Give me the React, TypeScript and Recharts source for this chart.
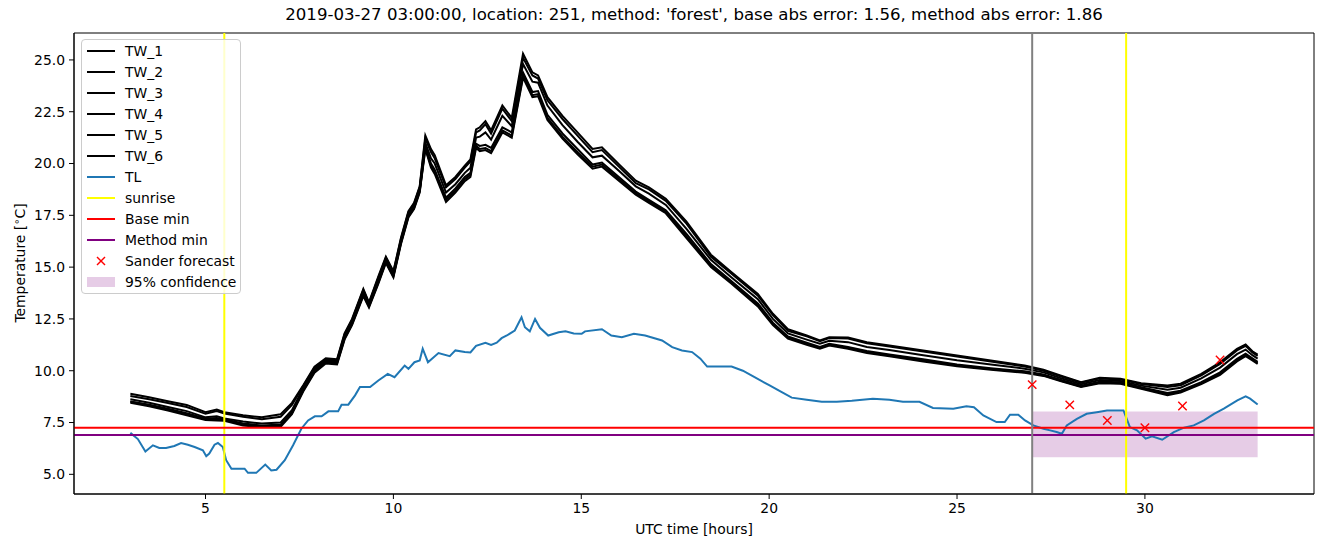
import { ComposedChart, Line, XAxis, YAxis, ReferenceLine, ReferenceArea, Legend } from 'recharts'

const twHours = [3, 3.5, 4, 4.5, 5, 5.3, 5.5, 6, 6.5, 7, 7.3, 7.6, 7.9, 8.2, 8.5, 8.7, 8.9, 9.2, 9.35, 9.6, 9.8, 10, 10.2, 10.4, 10.55, 10.7, 10.85, 11, 11.1, 11.4, 11.65, 11.9, 12.05, 12.2, 12.3, 12.45, 12.6, 12.9, 13.15, 13.45, 13.7, 13.85, 14.1, 14.5, 14.9, 15.3, 15.55, 16, 16.45, 16.8, 17.25, 17.8, 18.45, 19, 19.7, 20.1, 20.5, 21, 21.35, 21.6, 22.1, 22.6, 23.2, 24.1, 25, 25.9, 26.8, 27.3, 27.75, 28.3, 28.8, 29.35, 29.9, 30.6, 30.95, 31.5, 32, 32.45, 32.68, 32.86, 33]

const tw1 = [8.89, 8.72, 8.53, 8.35, 8.0, 8.13, 8.0, 7.85, 7.75, 7.9, 8.45, 9.3, 10.2, 10.6, 10.55, 11.8, 12.5, 13.95, 13.3, 14.55, 15.5, 14.8, 16.4, 17.7, 18.1, 18.9, 21.35, 20.7, 20.4, 18.95, 19.35, 19.9, 20.2, 21.65, 21.75, 22.05, 21.6, 22.8, 22.2, 25.3, 24.4, 24.25, 23.2, 22.3, 21.5, 20.7, 20.78, 19.97, 19.17, 18.85, 18.3, 17.2, 15.6, 14.75, 13.7, 12.75, 12.0, 11.7, 11.46, 11.62, 11.6, 11.38, 11.22, 10.98, 10.73, 10.49, 10.25, 10.05, 9.77, 9.45, 9.66, 9.61, 9.4, 9.29, 9.37, 9.85, 10.41, 11.06, 11.27, 10.94, 10.78]
const tw2 = [8.78, 8.62, 8.44, 8.25, 7.92, 8.05, 7.93, 7.78, 7.66, 7.78, 8.35, 9.25, 10.15, 10.55, 10.5, 11.75, 12.45, 13.9, 13.25, 14.5, 15.45, 14.75, 16.35, 17.65, 18.05, 18.85, 21.2, 20.55, 20.25, 18.85, 19.25, 19.8, 20.1, 21.5, 21.6, 21.9, 21.45, 22.65, 22.05, 25.1, 24.25, 24.1, 23.05, 22.15, 21.35, 20.55, 20.65, 19.85, 19.05, 18.75, 18.2, 17.1, 15.5, 14.68, 13.62, 12.68, 11.92, 11.66, 11.42, 11.58, 11.55, 11.33, 11.17, 10.93, 10.68, 10.44, 10.2, 10.0, 9.73, 9.42, 9.63, 9.58, 9.36, 9.22, 9.3, 9.78, 10.33, 10.98, 11.2, 10.88, 10.72]
const tw3 = [8.62, 8.45, 8.25, 8.05, 7.75, 7.8, 7.7, 7.55, 7.45, 7.5, 8.1, 9.15, 10.05, 10.5, 10.45, 11.65, 12.35, 13.8, 13.2, 14.4, 15.35, 14.65, 16.25, 17.55, 17.95, 18.75, 21.0, 20.25, 20.0, 18.6, 19.0, 19.55, 19.8, 21.25, 21.3, 21.5, 21.15, 22.3, 21.8, 24.8, 23.95, 23.9, 22.8, 21.85, 21.05, 20.3, 20.38, 19.65, 18.9, 18.55, 18.0, 16.85, 15.35, 14.5, 13.45, 12.5, 11.8, 11.5, 11.3, 11.45, 11.38, 11.15, 11.0, 10.75, 10.5, 10.3, 10.1, 9.92, 9.65, 9.35, 9.55, 9.5, 9.28, 9.08, 9.18, 9.63, 10.15, 10.8, 11.02, 10.75, 10.58]
const tw4 = [8.52, 8.36, 8.16, 7.95, 7.7, 7.72, 7.66, 7.45, 7.36, 7.4, 8.0, 9.1, 10.0, 10.45, 10.4, 11.6, 12.3, 13.7, 13.15, 14.3, 15.3, 14.6, 16.2, 17.5, 17.9, 18.7, 20.85, 20.0, 19.7, 18.35, 18.8, 19.35, 19.55, 20.95, 20.85, 20.9, 20.75, 21.75, 21.5, 24.4, 23.45, 23.5, 22.35, 21.45, 20.7, 19.95, 20.05, 19.35, 18.65, 18.25, 17.75, 16.6, 15.15, 14.32, 13.25, 12.32, 11.65, 11.35, 11.15, 11.3, 11.15, 10.95, 10.78, 10.55, 10.3, 10.12, 9.97, 9.82, 9.57, 9.28, 9.47, 9.44, 9.2, 8.92, 9.04, 9.45, 9.92, 10.57, 10.82, 10.6, 10.43]
const tw5 = [8.5, 8.33, 8.13, 7.9, 7.66, 7.65, 7.62, 7.4, 7.32, 7.35, 7.95, 9.05, 9.95, 10.4, 10.35, 11.55, 12.25, 13.65, 13.1, 14.25, 15.25, 14.55, 16.15, 17.45, 17.85, 18.65, 20.75, 19.9, 19.6, 18.25, 18.7, 19.25, 19.45, 20.85, 20.7, 20.75, 20.6, 21.6, 21.35, 24.25, 23.3, 23.35, 22.2, 21.3, 20.55, 19.85, 19.95, 19.25, 18.57, 18.17, 17.67, 16.48, 15.07, 14.26, 13.17, 12.26, 11.6, 11.3, 11.1, 11.26, 11.1, 10.9, 10.74, 10.5, 10.26, 10.08, 9.93, 9.78, 9.53, 9.24, 9.43, 9.4, 9.16, 8.86, 8.99, 9.4, 9.86, 10.5, 10.76, 10.55, 10.38]
const tw6 = [8.45, 8.28, 8.08, 7.85, 7.62, 7.6, 7.58, 7.35, 7.28, 7.3, 7.9, 9.0, 9.9, 10.35, 10.3, 11.5, 12.2, 13.6, 13.05, 14.2, 15.2, 14.5, 16.1, 17.4, 17.8, 18.6, 20.7, 19.8, 19.5, 18.15, 18.6, 19.15, 19.35, 20.75, 20.6, 20.65, 20.5, 21.5, 21.25, 24.15, 23.2, 23.25, 22.1, 21.2, 20.45, 19.75, 19.85, 19.17, 18.5, 18.1, 17.6, 16.4, 15.0, 14.2, 13.1, 12.2, 11.55, 11.25, 11.06, 11.22, 11.06, 10.85, 10.7, 10.45, 10.22, 10.05, 9.9, 9.75, 9.5, 9.21, 9.4, 9.37, 9.13, 8.82, 8.95, 9.35, 9.8, 10.45, 10.7, 10.5, 10.33]

const tlHours = [3, 3.2, 3.4, 3.6, 3.77, 3.95, 4.17, 4.35, 4.53, 4.71, 4.93, 5.02, 5.1, 5.24, 5.33, 5.46, 5.55, 5.69, 6.04, 6.13, 6.35, 6.59, 6.75, 6.89, 7.11, 7.33, 7.55, 7.73, 7.91, 8.09, 8.27, 8.53, 8.62, 8.8, 8.98, 9.11, 9.38, 9.6, 9.85, 10.03, 10.3, 10.4, 10.56, 10.7, 10.78, 10.92, 11.2, 11.5, 11.65, 11.9, 12.05, 12.2, 12.45, 12.6, 12.75, 12.88, 13.02, 13.23, 13.41, 13.5, 13.63, 13.77, 13.9, 14.12, 14.4, 14.58, 14.8, 15.01, 15.1, 15.55, 15.8, 16.08, 16.4, 16.7, 17.15, 17.42, 17.68, 17.95, 18.17, 18.35, 19, 19.3, 19.6, 20, 20.3, 20.6, 21, 21.4, 21.8, 22.2, 22.76, 23.2, 23.56, 24, 24.36, 24.9, 25.25, 25.45, 25.7, 26.05, 26.27, 26.41, 26.63, 26.81, 27.03, 27.3, 27.48, 27.65, 27.79, 27.92, 28.19, 28.45, 28.72, 28.99, 29.43, 29.6, 29.79, 30.02, 30.19, 30.46, 30.77, 31.04, 31.3, 31.57, 31.84, 32.1, 32.46, 32.68, 32.8, 33]
const tlTemp = [7.0, 6.7, 6.1, 6.4, 6.27, 6.27, 6.37, 6.51, 6.43, 6.32, 6.16, 5.87, 6.0, 6.43, 6.51, 6.32, 5.68, 5.27, 5.27, 5.07, 5.07, 5.47, 5.19, 5.22, 5.68, 6.4, 7.2, 7.6, 7.8, 7.8, 8.04, 8.04, 8.36, 8.36, 8.81, 9.21, 9.21, 9.53, 9.85, 9.69, 10.25, 10.09, 10.41, 10.49, 11.06, 10.41, 10.85, 10.7, 10.98, 10.9, 10.88, 11.2, 11.35, 11.25, 11.35, 11.57, 11.7, 11.94, 12.58, 12.1, 11.9, 12.5, 12.07, 11.7, 11.86, 11.9, 11.8, 11.78, 11.9, 12.0, 11.7, 11.62, 11.78, 11.7, 11.46, 11.14, 10.98, 10.9, 10.58, 10.2, 10.2, 10.0, 9.7, 9.3, 9.0, 8.7, 8.6, 8.5, 8.5, 8.55, 8.65, 8.6, 8.5, 8.5, 8.2, 8.17, 8.28, 8.24, 7.84, 7.52, 7.52, 7.88, 7.88, 7.6, 7.36, 7.2, 7.12, 7.04, 6.96, 7.36, 7.68, 7.92, 8.0, 8.08, 8.08, 7.28, 7.12, 6.72, 6.83, 6.67, 7.04, 7.25, 7.36, 7.6, 7.92, 8.17, 8.57, 8.76, 8.65, 8.37]

const sanderHours = [27, 28, 29, 30, 31, 32]
const sanderTemp = [9.33, 8.35, 7.6, 7.25, 8.3, 10.52]

const sunriseHours = [5.5, 29.5]
const forecastStart = 27
const baseMin = 7.25
const methodMin = 6.9
const confidence = { from: 27, to: 33, low: 5.82, high: 8.03 }

const xTicks = [5, 10, 15, 20, 25, 30]
const yTicks = [5, 7.5, 10, 12.5, 15, 17.5, 20, 22.5, 25]

const twSeries = [
  { name: 'TW_1', values: tw1 },
  { name: 'TW_2', values: tw2 },
  { name: 'TW_3', values: tw3 },
  { name: 'TW_4', values: tw4 },
  { name: 'TW_5', values: tw5 },
  { name: 'TW_6', values: tw6 },
]

const legendItems = [
  { label: 'TW_1', kind: 'line', color: '#000000' },
  { label: 'TW_2', kind: 'line', color: '#000000' },
  { label: 'TW_3', kind: 'line', color: '#000000' },
  { label: 'TW_4', kind: 'line', color: '#000000' },
  { label: 'TW_5', kind: 'line', color: '#000000' },
  { label: 'TW_6', kind: 'line', color: '#000000' },
  { label: 'TL', kind: 'line', color: '#1f77b4' },
  { label: 'sunrise', kind: 'line', color: '#ffff00' },
  { label: 'Base min', kind: 'line', color: '#ff0000' },
  { label: 'Method min', kind: 'line', color: '#800080' },
  { label: 'Sander forecast', kind: 'cross', color: '#ff0000' },
  { label: '95% confidence', kind: 'patch', color: '#800080' },
]

const FONT = 'DejaVu Sans, sans-serif'

const toPoints = (hours: number[], vals: number[]) => hours.map((h, i) => ({ h, v: vals[i] }))

const Cross = (props: any) => {
  const { cx, cy } = props
  if (cx == null || cy == null) return null
  const s = 4.2
  return (
    <g>
      <line x1={cx - s} y1={cy - s} x2={cx + s} y2={cy + s} stroke="#ff0000" strokeWidth={1.4} />
      <line x1={cx - s} y1={cy + s} x2={cx + s} y2={cy - s} stroke="#ff0000" strokeWidth={1.4} />
    </g>
  )
}

const renderLegend = () => (
  <div
    style={{
      width: 160,
      height: 255,
      border: '1px solid #cccccc',
      borderRadius: 4,
      background: 'rgba(255,255,255,0.8)',
      boxSizing: 'border-box',
      position: 'relative',
      fontFamily: FONT,
      fontSize: 13.9,
      color: '#000',
    }}
  >
    {legendItems.map((it, i) => {
      const cy = 10.5 + i * 21.04
      return (
        <div key={it.label} style={{ position: 'absolute', left: 0, top: cy - 10, height: 20, width: 158 }}>
          <svg width={40} height={20} style={{ position: 'absolute', left: 0, top: 0 }}>
            {it.kind === 'line' && <line x1={5} y1={10} x2={33} y2={10} stroke={it.color} strokeWidth={2} />}
            {it.kind === 'cross' && (
              <g>
                <line x1={15} y1={6} x2={23} y2={14} stroke={it.color} strokeWidth={1.4} />
                <line x1={15} y1={14} x2={23} y2={6} stroke={it.color} strokeWidth={1.4} />
              </g>
            )}
            {it.kind === 'patch' && <rect x={5} y={5} width={28} height={10} fill={it.color} fillOpacity={0.2} />}
          </svg>
          <span style={{ position: 'absolute', left: 43, top: 1, whiteSpace: 'nowrap', lineHeight: '18px' }}>{it.label}</span>
        </div>
      )
    })}
  </div>
)

export default function App() {
  const tick = { fill: '#000', fontSize: 13.9, fontFamily: FONT }
  return (
    <div style={{ position: 'absolute', left: 0, top: 0, width: 1324, height: 547, background: '#fff', fontFamily: FONT }}>
      <div style={{ position: 'absolute', left: 74, width: 1240, top: 5, textAlign: 'center', fontSize: 16.6 }}>
        2019-03-27 03:00:00, location: 251, method: 'forest', base abs error: 1.56, method abs error: 1.86
      </div>
      <div style={{ position: 'absolute', left: 74, width: 1240, top: 521, textAlign: 'center', fontSize: 13.9 }}>
        UTC time [hours]
      </div>
      <div
        style={{
          position: 'absolute',
          left: 19,
          top: 263,
          transform: 'translate(-50%, -50%) rotate(-90deg)',
          fontSize: 13.9,
          whiteSpace: 'nowrap',
        }}
      >
        Temperature [<sup style={{ fontSize: 10, verticalAlign: 5 }}>∘</sup>C]
      </div>
      <ComposedChart width={1324} height={547} margin={{ top: 33, right: 10, bottom: 23, left: 0 }}>
        <XAxis
          type="number"
          dataKey="h"
          domain={[1.5, 34.5]}
          ticks={xTicks}
          allowDataOverflow
          tick={tick}
          tickSize={5}
          tickMargin={4}
          height={30}
          stroke="#000"
        />
        <YAxis
          type="number"
          domain={[4.05, 26.3]}
          ticks={yTicks}
          allowDataOverflow
          tickFormatter={(v: number) => v.toFixed(1)}
          tick={tick}
          tickSize={5}
          tickMargin={4}
          width={74}
          stroke="#000"
        />
        <ReferenceArea
          x1={confidence.from}
          x2={confidence.to}
          y1={confidence.low}
          y2={confidence.high}
          fill="#800080"
          fillOpacity={0.2}
          stroke="none"
        />
        {twSeries.map((s) => (
          <Line
            key={s.name}
            data={toPoints(twHours, s.values)}
            dataKey="v"
            name={s.name}
            type="linear"
            stroke="#000000"
            strokeWidth={2}
            dot={false}
            isAnimationActive={false}
          />
        ))}
        <Line
          data={toPoints(tlHours, tlTemp)}
          dataKey="v"
          name="TL"
          type="linear"
          stroke="#1f77b4"
          strokeWidth={2}
          dot={false}
          isAnimationActive={false}
        />
        {sunriseHours.map((h) => (
          <ReferenceLine key={h} x={h} stroke="#ffff00" strokeWidth={2} />
        ))}
        <ReferenceLine y={baseMin} stroke="#ff0000" strokeWidth={2} />
        <ReferenceLine y={methodMin} stroke="#800080" strokeWidth={2} />
        <ReferenceLine x={forecastStart} stroke="#808080" strokeWidth={2} />
        <Line
          data={toPoints(sanderHours, sanderTemp)}
          dataKey="v"
          name="Sander forecast"
          stroke="none"
          dot={<Cross />}
          activeDot={false}
          isAnimationActive={false}
        />
        <ReferenceArea x1={1.5} x2={34.5} y1={4.05} y2={26.3} fill="none" stroke="#000" strokeWidth={1} />
        <Legend
          layout="vertical"
          align="center"
          verticalAlign="middle"
          content={renderLegend}
          wrapperStyle={{ position: 'absolute', left: 81, top: 39, width: 160, height: 255 }}
        />
      </ComposedChart>
    </div>
  )
}
